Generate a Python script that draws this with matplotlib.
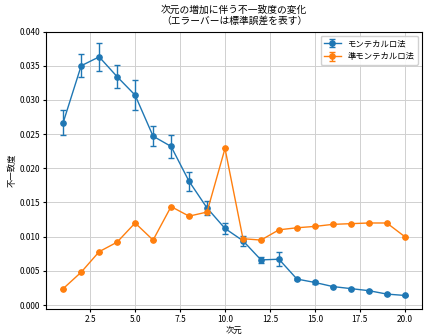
import matplotlib
matplotlib.use("Agg")
from matplotlib import pyplot as plt

plt.rcParams['font.family'] = ['Noto Sans CJK JP', 'DejaVu Sans']

dims = list(range(1, 21))

# モンテカルロ法
mc_mean = [0.0267, 0.0350, 0.0363, 0.0334, 0.0307, 0.0247, 0.0232, 0.0181, 0.0142, 0.0112,
           0.0094, 0.0066, 0.0067, 0.0038, 0.0033, 0.0027, 0.0024, 0.0021, 0.0016, 0.0014]
mc_err = [0.0019, 0.0017, 0.0020, 0.0017, 0.0022, 0.00145, 0.0017, 0.0014, 0.0010, 0.0008,
          0.0007, 0.0004, 0.0010, 0.0002, 0.0002, 0.0001, 0.0001, 0.0001, 0.0001, 0.0001]

# 準モンテカルロ法
qmc_mean = [0.0024, 0.0048, 0.0078, 0.0092, 0.0120, 0.0095, 0.0144, 0.0130, 0.0136, 0.0229,
            0.0097, 0.0095, 0.0110, 0.0113, 0.0115, 0.0118, 0.0119, 0.0120, 0.0120, 0.0100]
qmc_err = [0.0] * 20

fig = plt.figure(figsize=(4.27, 3.36), dpi=100)
ax = fig.add_axes([0.108, 0.08, 0.88, 0.826])

ax.errorbar(dims, mc_mean, yerr=mc_err, fmt='-o', color='#1f77b4', ecolor='#1f77b4',
            markersize=3.8, linewidth=1, capsize=2, elinewidth=1, label='モンテカルロ法')
ax.errorbar(dims, qmc_mean, yerr=qmc_err, fmt='-o', color='#ff7f0e', ecolor='#ff7f0e',
            markersize=3.8, linewidth=1, capsize=2, elinewidth=1, label='準モンテカルロ法')

ax.set_title('次元の増加に伴う不一致度の変化\n（エラーバーは標準誤差を表す）', fontsize=7, linespacing=1.1)
ax.set_xlabel('次元', fontsize=6, labelpad=1)
ax.set_ylabel('不一致度', fontsize=6, labelpad=2)
ax.tick_params(labelsize=6, length=2.5, pad=2)
ax.set_ylim(-0.0006, 0.040)
ax.set_xlim(0.05, 20.95)
ax.grid(True, color='#d0d0d0', linewidth=0.7)
ax.legend(fontsize=6, loc='upper right', framealpha=0.9)

fig.savefig('out.png', dpi=100)
